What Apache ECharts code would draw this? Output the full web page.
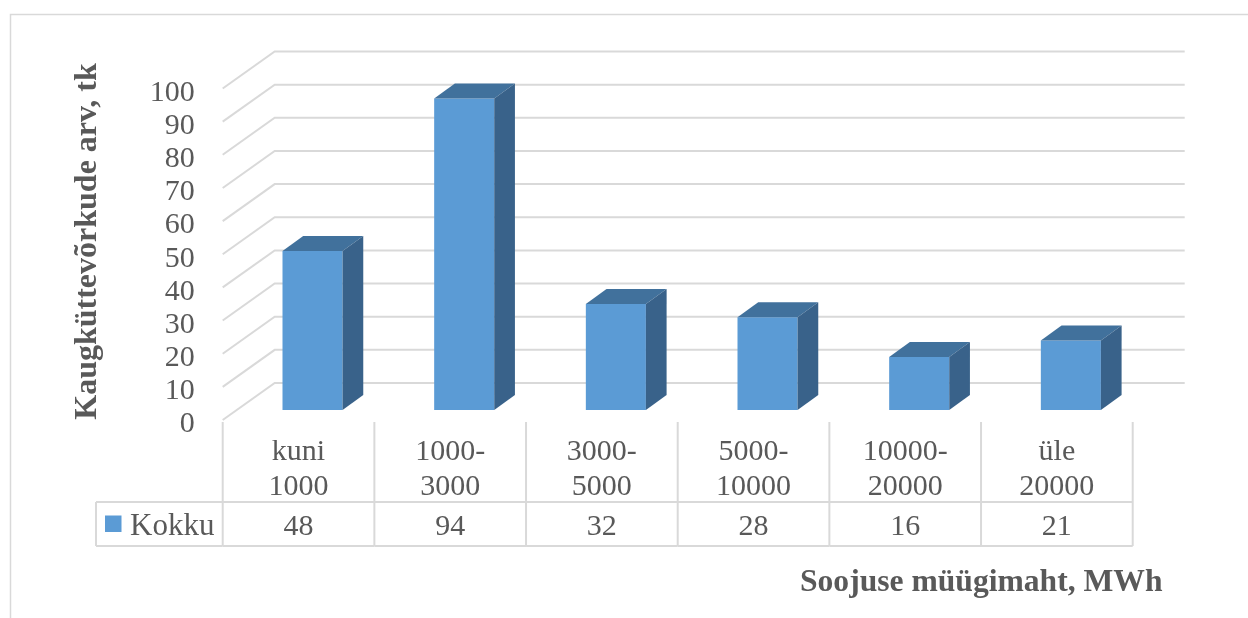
<!DOCTYPE html>
<html>
<head>
<meta charset="utf-8">
<script src="https://cdn.jsdelivr.net/npm/echarts@6/dist/echarts.min.js"></script>
<style>
html,body{margin:0;padding:0;background:#fff;}
#c{width:1248px;height:618px;}
</style>
</head>
<body>
<div id="c"></div>
<script>
const categories = ["kuni\n1000", "1000-\n3000", "3000-\n5000", "5000-\n10000", "10000-\n20000", "üle\n20000"];
const seriesName = "Kokku";
const values = [48, 94, 32, 28, 16, 21];
const yTicks = [0, 10, 20, 30, 40, 50, 60, 70, 80, 90, 100];
const yTitle = "Kaugküttevõrkude arv, tk";
const xTitle = "Soojuse müügimaht, MWh";

const FONT = "'Liberation Serif', 'Times New Roman', serif";
const TXT = '#595959';
const GRIDC = '#D9D9D9';
const FRONT = '#5B9BD5', TOP = '#41719C', SIDE = '#39628A';
// perspective offsets relative to bar-front plane
const FLOOR_DX = -14, FLOOR_DY = 10, BACK_DX = 38, BACK_DY = -27;
const BAR_DX = 20.7, BAR_DY = -15;

const chart = echarts.init(document.getElementById('c'), null, {renderer: 'canvas'});

const option = {
  animation: false,
  backgroundColor: '#fff',
  grid: [
    {left: 236.7, top: 78.5, width: 910, height: 331.5},
    {left: 222.7, top: 88.5, width: 910, height: 331.5},
    {left: 222.7, top: 93, width: 910, height: 331.5}
  ],
  xAxis: [
    {gridIndex: 0, type: 'category', data: categories, show: false},
    {gridIndex: 1, type: 'category', data: categories,
     axisLine: {show: false}, axisTick: {show: false},
     axisLabel: {interval: 0, margin: 15, fontFamily: FONT, fontSize: 30, color: TXT, lineHeight: 35, align: 'center'}},
    {gridIndex: 2, type: 'category', data: categories, show: false}
  ],
  yAxis: [
    {gridIndex: 0, type: 'value', min: 0, max: 100, interval: 10, show: false},
    {gridIndex: 1, type: 'value', min: 0, max: 100, interval: 10, show: false},
    {gridIndex: 2, type: 'value', min: 0, max: 100, interval: 10,
     axisLine: {show: false}, axisTick: {show: false}, splitLine: {show: false},
     axisLabel: {margin: 28, fontFamily: FONT, fontSize: 30, color: TXT}}
  ],
  graphic: [
    {type: 'rect', left: 8, top: 12, silent: true, z: -10,
     shape: {x: 0, y: 0, width: 1400, height: 800},
     style: {fill: 'none', stroke: GRIDC, lineWidth: 1.5}},
    {type: 'text', x: 88, y: 241.5, rotation: Math.PI / 2,
     style: {text: yTitle, font: 'bold 32px ' + FONT, fill: TXT, align: 'center', verticalAlign: 'middle'}},
    {type: 'text', x: 800, y: 583,
     style: {text: xTitle, font: 'bold 31.6px ' + FONT, fill: TXT, align: 'left', verticalAlign: 'middle'}}
  ],
  series: [
    {
      type: 'custom', name: 'grid', xAxisIndex: 0, yAxisIndex: 0, silent: true,
      data: yTicks.map(v => [0, v]),
      renderItem: function (params, api) {
        const cs = params.coordSys;
        const y = api.coord([0, api.value(1)])[1];
        const l = cs.x, r = cs.x + cs.width;
        return {
          type: 'polyline',
          shape: {points: [[l + FLOOR_DX, y + FLOOR_DY], [l + BACK_DX, y + BACK_DY], [r + BACK_DX, y + BACK_DY]]},
          style: {stroke: GRIDC, lineWidth: 2, fill: 'none'}
        };
      }
    },
    {
      type: 'custom', name: seriesName, xAxisIndex: 0, yAxisIndex: 0,
      data: values.map((v, i) => [i, v]),
      renderItem: function (params, api) {
        const i = api.value(0), v = api.value(1);
        const top = api.coord([i, v]);
        const bot = api.coord([i, 0]);
        const bw = api.size([1, 0])[0] * 0.396;
        const xl = top[0] - bw / 2, xr = top[0] + bw / 2;
        const yt = top[1], yb = bot[1];
        return {
          type: 'group',
          children: [
            {type: 'rect', shape: {x: xl, y: yt, width: bw, height: yb - yt}, style: {fill: FRONT}},
            {type: 'polygon', shape: {points: [[xl, yt], [xr, yt], [xr + BAR_DX, yt + BAR_DY], [xl + BAR_DX, yt + BAR_DY]]}, style: {fill: TOP}},
            {type: 'polygon', shape: {points: [[xr, yt], [xr + BAR_DX, yt + BAR_DY], [xr + BAR_DX, yb + BAR_DY], [xr, yb]]}, style: {fill: SIDE}}
          ]
        };
      }
    },
    {
      type: 'custom', name: 'table', xAxisIndex: 1, yAxisIndex: 1, silent: true,
      data: values.map((v, i) => [i, v]),
      renderItem: function (params, api) {
        const i = api.value(0), v = api.value(1);
        const c = api.coord([i, 0]);
        const w = api.size([1, 0])[0];
        const x0 = c[0] - w / 2, x1 = c[0] + w / 2;
        const y0 = c[1] + 2, yMid = c[1] + 82, yBot = c[1] + 126;
        const ls = {stroke: GRIDC, lineWidth: 2};
        const ch = [
          {type: 'line', shape: {x1: x0, y1: y0, x2: x0, y2: yBot}, style: ls},
          {type: 'line', shape: {x1: x0, y1: yMid, x2: x1, y2: yMid}, style: ls},
          {type: 'line', shape: {x1: x0, y1: yBot, x2: x1, y2: yBot}, style: ls},
          {type: 'text', x: c[0], y: (yMid + yBot) / 2 + 3,
           style: {text: String(v), font: '30px ' + FONT, fill: TXT, align: 'center', verticalAlign: 'middle'}}
        ];
        if (i === values.length - 1) {
          ch.push({type: 'line', shape: {x1: x1, y1: y0, x2: x1, y2: yBot}, style: ls});
        }
        if (i === 0) {
          const lx = x0 - 126.7;
          ch.push({type: 'line', shape: {x1: lx, y1: yMid, x2: x0, y2: yMid}, style: ls});
          ch.push({type: 'line', shape: {x1: lx, y1: yBot, x2: x0, y2: yBot}, style: ls});
          ch.push({type: 'line', shape: {x1: lx, y1: yMid, x2: lx, y2: yBot}, style: ls});
          ch.push({type: 'rect', shape: {x: lx + 9, y: yMid + 13.5, width: 16.5, height: 16.5}, style: {fill: FRONT}});
          ch.push({type: 'text', x: lx + 34, y: (yMid + yBot) / 2 + 3,
            style: {text: seriesName, font: '31px ' + FONT, fill: TXT, align: 'left', verticalAlign: 'middle'}});
        }
        return {type: 'group', children: ch};
      }
    }
  ]
};
chart.setOption(option);
</script>
</body>
</html>
